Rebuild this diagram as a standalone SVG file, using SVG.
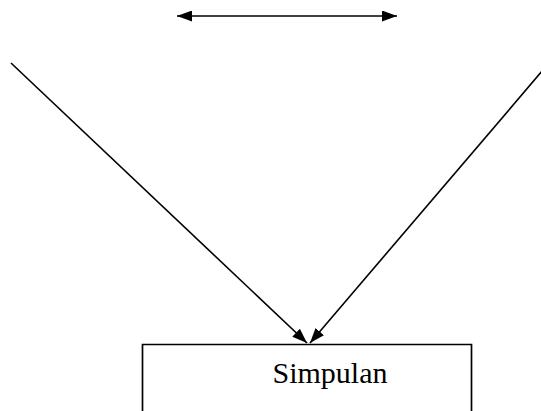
<svg xmlns="http://www.w3.org/2000/svg" width="541" height="411" viewBox="0 0 541 411">
  <style>
    .edge { stroke: #000; stroke-width: 1.6; fill: none; }
    .box { stroke: #000; stroke-width: 1.7; fill: #fff; }
    .label { font-family: "Liberation Serif", "Times New Roman", serif; font-size: 30px; fill: #000; }
  </style>
  <defs>
    <marker id="head" viewBox="0 0 15 11" refX="15" refY="5.5" markerWidth="15" markerHeight="11" markerUnits="userSpaceOnUse" orient="auto-start-reverse">
      <path d="M0,0 L15,5.5 L0,11 Z" fill="#000"/>
    </marker>
  </defs>
  <rect width="541" height="411" fill="#fff"/>
  <g id="connectors">
    <line class="edge" x1="177" y1="16" x2="397" y2="16" marker-start="url(#head)" marker-end="url(#head)"/>
    <line class="edge" x1="11" y1="63" x2="307" y2="343" marker-end="url(#head)"/>
    <line class="edge" x1="543" y1="70" x2="310" y2="343" marker-end="url(#head)"/>
  </g>
  <g id="simpulan">
    <path class="box" d="M142.5,412 V344.5 H471.5 V412"/>
    <text class="label" x="272.5" y="383">Simpulan</text>
  </g>
</svg>
